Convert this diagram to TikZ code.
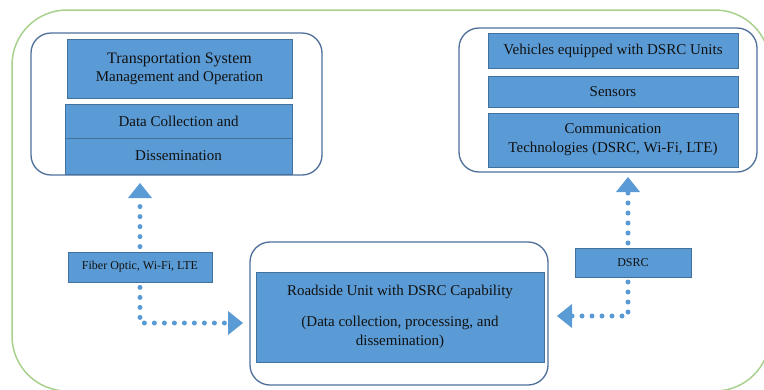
\documentclass[tikz,border=0pt]{standalone}
\usepackage{fontspec}
\setmainfont{Liberation Serif}
\usetikzlibrary{arrows.meta}
\definecolor{boxblue}{HTML}{5B9BD5}
\definecolor{boxedge}{HTML}{41719C}
\definecolor{groupedge}{HTML}{4E6F9A}
\definecolor{outergreen}{HTML}{A9D18E}
\definecolor{txt}{HTML}{111111}
\begin{document}
\begin{tikzpicture}[x=1pt,y=-1pt,
  blk/.style={draw=boxedge, line width=0.8pt, fill=boxblue, text=txt, align=center, inner sep=0pt,
    font=\fontsize{15}{19}\selectfont},
  small/.style={font=\fontsize{12}{14}\selectfont},
  grp/.style={draw=groupedge, line width=1.3pt, rounded corners=20pt, fill=white},
  dotline/.style={boxblue, line width=5pt, line cap=round, dash pattern=on 0pt off 10pt},
  tip/.style={-{Triangle[width=24pt,length=15pt,line width=0pt]}}
]
\useasboundingbox (0,0) rectangle (764,389);
\draw[outergreen, line width=1.5pt, rounded corners=55pt] (12,10) rectangle (770,391);

% groups
\draw[grp] (31,33) rectangle (322,175);
\draw[grp] (459,28) rectangle (757,172);
\draw[grp] (250,242) rectangle (548,385);

% left group
\node[blk, minimum width=225pt, minimum height=59pt] (tsmo) at (179.5,68.5)
  {{\fontsize{16}{20}\selectfont Transportation System}\\[-1pt]Management and Operation};
\node[blk, minimum width=227pt, minimum height=34pt] (dcol) at (178.5,121) {Data Collection and};
\node[blk, minimum width=227pt, minimum height=36pt] (diss) at (178.5,156) {Dissemination};

% right group
\node[blk, minimum width=250pt, minimum height=35pt] (veh) at (613,50.5) {Vehicles equipped with DSRC Units};
\node[blk, minimum width=250pt, minimum height=31pt] (sens) at (613,91.5) {Sensors};
\node[blk, minimum width=250pt, minimum height=54pt] (comm) at (613,140)
  {Communication\\Technologies (DSRC, Wi-Fi, LTE)};

% roadside unit
\node[blk, minimum width=288pt, minimum height=90pt] (rsu) at (400,317)
  {Roadside Unit with DSRC Capability\\[12pt](Data collection, processing, and\\dissemination)};

% labels
\node[blk, small, minimum width=144pt, minimum height=30pt] (fiber) at (140,267) {Fiber Optic, Wi-Fi, LTE};
\node[blk, small, minimum width=116pt, minimum height=29pt] (dsrc) at (633,262.5) {DSRC};

% arrow end points
\coordinate (ltop) at (140,183);
\coordinate (lright) at (243,323);
\coordinate (rtop) at (628,177);
\coordinate (rleft) at (557,316);
\coordinate (rstart) at (628,248);
\coordinate (rbot) at (628,277);

% connectors
\draw[dotline, tip, shorten <=5pt] (fiber.north) -- (ltop);
\draw[dotline, tip, shorten <=5pt] (fiber.south) |- (lright);
\draw[dotline, tip, shorten <=5pt] (rstart) -- (rtop);
\draw[dotline, tip, shorten <=5pt] (rbot) |- (rleft);
\end{tikzpicture}
\end{document}
